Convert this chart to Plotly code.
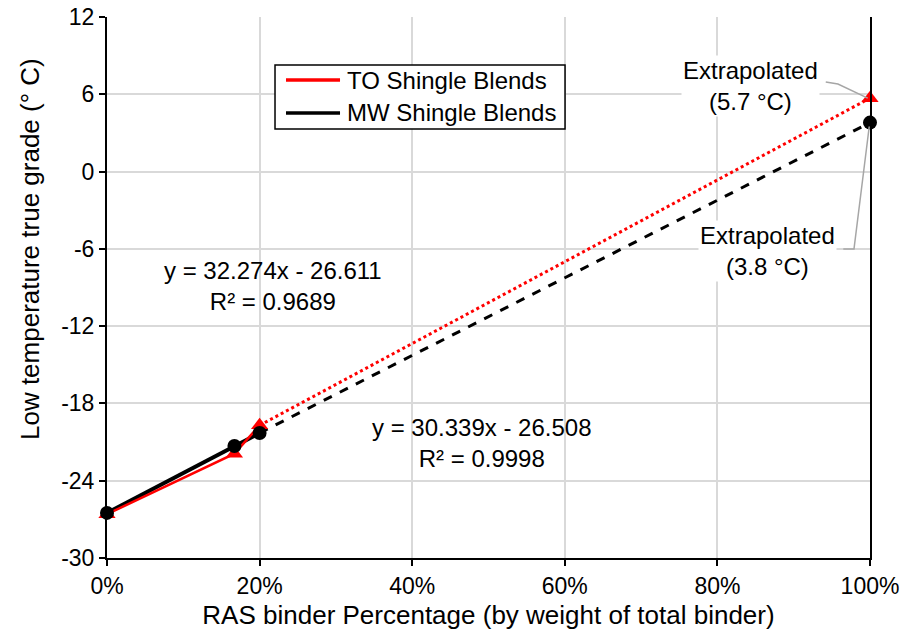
import plotly.graph_objects as go

# ---- data ----
ras_frac = [0.0, 0.167, 0.20]
to_vals = [-26.6, -21.9, -19.7]
mw_vals = [-26.5, -21.3, -20.3]
extrap_x = 1.0
to_extrap = 5.7
mw_extrap = 3.8
x_ticks = [0, 0.2, 0.4, 0.6, 0.8, 1.0]
x_tick_labels = ["0%", "20%", "40%", "60%", "80%", "100%"]
y_ticks = [-30, -24, -18, -12, -6, 0, 6, 12]
y_tick_labels = ["-30", "-24", "-18", "-12", "-6", "0", "6", "12"]
series_names = ["TO Shingle Blends", "MW Shingle Blends"]

FONT = "Arial, Liberation Sans, sans-serif"
RED = "#ff0000"
BLACK = "#000000"
GREY = "#a6a6a6"

fig = go.Figure()

# extrapolation lines
fig.add_trace(go.Scatter(x=[ras_frac[-1], extrap_x], y=[mw_vals[-1], mw_extrap], mode="lines",
                         line=dict(color=BLACK, width=3, dash="dash"), showlegend=False, hoverinfo="skip"))
fig.add_trace(go.Scatter(x=[ras_frac[-1], extrap_x], y=[to_vals[-1], to_extrap], mode="lines",
                         line=dict(color=RED, width=3, dash="dot"), showlegend=False, hoverinfo="skip"))
# measured lines
fig.add_trace(go.Scatter(x=ras_frac, y=mw_vals, mode="lines", line=dict(color=BLACK, width=4),
                         name=series_names[1], showlegend=False))
fig.add_trace(go.Scatter(x=ras_frac, y=to_vals, mode="lines", line=dict(color=RED, width=2.5),
                         name=series_names[0], showlegend=False))
# markers
fig.add_trace(go.Scatter(x=ras_frac + [extrap_x], y=to_vals + [to_extrap], mode="markers",
                         marker=dict(symbol="triangle-up", size=15, color=RED), showlegend=False,
                         cliponaxis=False))
fig.add_trace(go.Scatter(x=ras_frac + [extrap_x], y=mw_vals + [mw_extrap], mode="markers",
                         marker=dict(symbol="circle", size=14, color=BLACK), showlegend=False,
                         cliponaxis=False))

ann_font = dict(family=FONT, size=24, color="#000000")
fig.add_annotation(x=0.218, y=-8.9, text="y = 32.274x - 26.611<br>R² = 0.9689", showarrow=False,
                   font=ann_font, align="center")
fig.add_annotation(x=0.492, y=-21.1, text="y = 30.339x - 26.508<br>R² = 0.9998", showarrow=False,
                   font=ann_font, align="center")
fig.add_annotation(x=0.844, y=6.64, text="Extrapolated<br>(5.7 °C)", showarrow=False,
                   font=ann_font, align="center", bgcolor="white")
fig.add_annotation(x=0.865, y=-6.2, text="Extrapolated<br>(3.8 °C)", showarrow=False,
                   font=ann_font, align="center", bgcolor="white")

# leader lines
fig.add_shape(type="path", path="M 0.942 6.95 L 0.958 6.8 L 0.997 5.7", xref="x", yref="y",
              line=dict(color=GREY, width=1.5))
fig.add_shape(type="path", path="M 0.965 -6.01 L 0.979 -6.01 L 0.999 3.5", xref="x", yref="y",
              line=dict(color=GREY, width=1.5))

# legend box (drawn in paper coordinates)
fig.add_shape(type="rect", xref="paper", yref="paper", x0=0.2202, x1=0.6003, y0=0.793, y1=0.9113,
              line=dict(color="black", width=1.5), fillcolor="white", layer="above")
for name, color, yrow in [(series_names[0], RED, 0.8835), (series_names[1], BLACK, 0.8226)]:
    fig.add_shape(type="line", xref="paper", yref="paper", x0=0.2346, x1=0.3054, y0=yrow, y1=yrow,
                  line=dict(color=color, width=3.5), layer="above")
    fig.add_annotation(xref="paper", yref="paper", x=0.3119, y=yrow, text=name, showarrow=False,
                       xanchor="left", yanchor="middle", font=ann_font)

# y-axis title (placed as in the reference, above plot centre)
fig.add_annotation(xref="paper", yref="paper", x=-0.101, y=0.571, text="Low temperature true grade (° C)",
                   textangle=-90, showarrow=False, xanchor="center", yanchor="middle",
                   font=dict(family=FONT, size=26, color="#000000"))

fig.update_layout(
    template="none",
    width=905, height=636,
    margin=dict(l=107, r=35, t=17, b=78, autoexpand=False),
    paper_bgcolor="white", plot_bgcolor="white",
    font=dict(family=FONT, size=23, color="#000000"),
    showlegend=False,
)
fig.update_xaxes(range=[0, 1], tickvals=x_ticks, ticktext=x_tick_labels, showgrid=True,
                 gridcolor="#d9d9d9", gridwidth=1.5, showline=True, linecolor="black", linewidth=2,
                 ticks="outside", ticklen=6, tickwidth=2, tickcolor="black", zeroline=False,
                 automargin=False, tickfont=dict(family=FONT, size=23),
                 title=dict(text="RAS binder Percentage (by weight of total binder)",
                            font=dict(family=FONT, size=26), standoff=8))
fig.update_yaxes(range=[-30, 12], tickvals=y_ticks, ticktext=y_tick_labels, showgrid=True,
                 gridcolor="#d9d9d9", gridwidth=1.5, showline=True, linecolor="black", linewidth=2,
                 mirror=True, ticks="outside", ticklen=6, tickwidth=2, tickcolor="black",
                 zeroline=False, automargin=False, tickfont=dict(family=FONT, size=23))

fig.write_html("out.html")
